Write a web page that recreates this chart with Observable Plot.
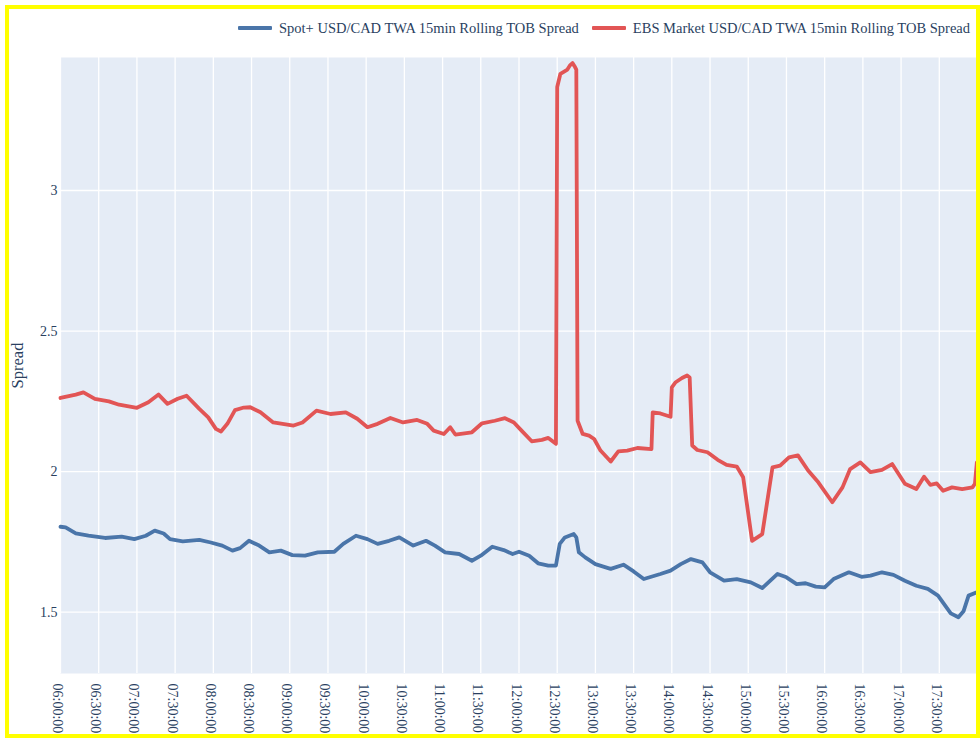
<!DOCTYPE html>
<html>
<head>
<meta charset="utf-8">
<script src="https://cdn.jsdelivr.net/npm/d3@7"></script>
<script src="https://cdn.jsdelivr.net/npm/@observablehq/plot@0.6"></script>
<style>
  html, body { margin: 0; padding: 0; background: #fff; }
  #wrap { position: relative; width: 980px; height: 738px; overflow: hidden; font-family: "Liberation Serif", "Times New Roman", serif; color: #2a3f5f; }
  #chart { position: absolute; left: 0; top: 0; }
  #legend { position: absolute; right: 10px; top: 18px; height: 20px; display: flex; align-items: center; font-size: 14.5px; line-height: 20px; white-space: nowrap; }
  .item { display: flex; align-items: center; margin-left: 13px; }
  .sw { width: 34px; height: 4px; margin-right: 7px; border-radius: 1px; }
  #border { position: absolute; left: 5px; top: 5px; width: 975px; height: 733px; box-sizing: border-box; border: 4px solid #ffff00; pointer-events: none; }
</style>
</head>
<body>
<div id="wrap">
  <div id="chart"></div>
  <div id="legend"></div>
  <div id="border"></div>
</div>
<script>
const seriesNames = ["Spot+ USD/CAD TWA 15min Rolling TOB Spread", "EBS Market USD/CAD TWA 15min Rolling TOB Spread"];
const seriesColors = ["#4a75a9", "#e25555"];

const spotTimes = ["06:00","06:04","06:12","06:22","06:35","06:48","06:58","07:07","07:14","07:21","07:26","07:36","07:49","07:58","08:07","08:15","08:21","08:28","08:36","08:44","08:53","09:02","09:12","09:22","09:35","09:42","09:52","10:01","10:09","10:18","10:26","10:37","10:47","10:54","11:02","11:13","11:23","11:30","11:39","11:48","11:55","12:00","12:08","12:15","12:23","12:29","12:32","12:36","12:43","12:45","12:47","12:52","13:00","13:10","13:12","13:22","13:30","13:38","13:51","13:59","14:07","14:15","14:24","14:30","14:41","14:51","15:02","15:11","15:23","15:30","15:38","15:45","15:53","16:00","16:07","16:19","16:29","16:36","16:45","16:54","17:03","17:12","17:21","17:29","17:39","17:45","17:49","17:53","17:59:30"];
const spotValues = [1.804,1.802,1.780,1.772,1.764,1.769,1.760,1.772,1.790,1.780,1.760,1.752,1.757,1.748,1.737,1.719,1.728,1.754,1.737,1.713,1.719,1.703,1.701,1.713,1.715,1.743,1.772,1.760,1.743,1.754,1.766,1.737,1.754,1.737,1.713,1.707,1.683,1.701,1.733,1.721,1.707,1.715,1.701,1.674,1.666,1.666,1.743,1.766,1.778,1.766,1.713,1.695,1.671,1.657,1.654,1.669,1.645,1.618,1.636,1.648,1.671,1.689,1.677,1.642,1.612,1.618,1.606,1.586,1.636,1.624,1.600,1.603,1.591,1.588,1.618,1.642,1.626,1.630,1.642,1.633,1.612,1.594,1.583,1.559,1.496,1.482,1.503,1.559,1.571];

const ebsTimes = ["06:00","06:12","06:18","06:27","06:38","06:46","07:00","07:09","07:17","07:24","07:32","07:39","07:49","07:56","08:02","08:06","08:11","08:17","08:24","08:29","08:37","08:47","09:03","09:10","09:21","09:32","09:44","09:53","10:01","10:09","10:19","10:29","10:40","10:48","10:53","11:01","11:06","11:10","11:23","11:31","11:41","11:49","11:56","12:02","12:10","12:18","12:23","12:29","12:30","12:32:30","12:38","12:40","12:42","12:44","12:45","12:46","12:50","12:55","12:59","13:04","13:12","13:18","13:25","13:33","13:44","13:45","13:51","13:59","14:00","14:03","14:08","14:12","14:14","14:16","14:20","14:28","14:36","14:43","14:51","14:56","15:03","15:11","15:19","15:25","15:32","15:39","15:47","15:55","16:06","16:14","16:20","16:28","16:36","16:45","16:53","17:03","17:12","17:18","17:23","17:28","17:33","17:40","17:48","17:56","17:58","17:59:30"];
const ebsValues = [2.262,2.274,2.282,2.259,2.250,2.238,2.227,2.247,2.274,2.241,2.259,2.270,2.223,2.193,2.152,2.143,2.170,2.219,2.228,2.229,2.211,2.175,2.164,2.175,2.217,2.205,2.211,2.188,2.158,2.170,2.191,2.175,2.184,2.170,2.146,2.134,2.158,2.132,2.140,2.172,2.181,2.190,2.175,2.146,2.108,2.113,2.120,2.099,3.368,3.415,3.430,3.445,3.453,3.439,3.430,2.181,2.134,2.128,2.116,2.075,2.036,2.072,2.075,2.084,2.080,2.211,2.207,2.195,2.300,2.318,2.333,2.342,2.335,2.093,2.077,2.069,2.042,2.024,2.018,1.980,1.754,1.778,2.015,2.021,2.051,2.058,2.004,1.962,1.891,1.944,2.009,2.033,1.998,2.006,2.027,1.957,1.938,1.982,1.953,1.958,1.932,1.944,1.938,1.944,1.957,2.033];

const xTickLabels = ["06:00:00","06:30:00","07:00:00","07:30:00","08:00:00","08:30:00","09:00:00","09:30:00","10:00:00","10:30:00","11:00:00","11:30:00","12:00:00","12:30:00","13:00:00","13:30:00","14:00:00","14:30:00","15:00:00","15:30:00","16:00:00","16:30:00","17:00:00","17:30:00"];
const xDomainLabels = ["06:00:00", "18:00:00"];
const yTicks = [1.5, 2, 2.5, 3];
const yDomain = [1.282, 3.473];
const yLabel = "Spread";

const parseT = d3.timeParse("%H:%M:%S");
const toDate = t => parseT(t.length === 5 ? t + ":00" : t);
const fmt = d3.timeFormat("%H:%M:%S");

const rows = [
  ...spotTimes.map((t, i) => ({series: seriesNames[0], time: toDate(t), value: spotValues[i]})),
  ...ebsTimes.map((t, i) => ({series: seriesNames[1], time: toDate(t), value: ebsValues[i]}))
];

const chart = Plot.plot({
  width: 980,
  height: 738,
  marginLeft: 60,
  marginRight: 3,
  marginTop: 57,
  marginBottom: 65,
  style: {fontFamily: '"Liberation Serif", "Times New Roman", serif', fontSize: "14px", color: "#2a3f5f", background: "transparent"},
  x: {type: "time", domain: xDomainLabels.map(parseT)},
  y: {domain: yDomain},
  color: {domain: seriesNames, range: seriesColors},
  marks: [
    Plot.frame({fill: "#e5ecf6", stroke: null}),
    Plot.gridX(xTickLabels.map(parseT), {stroke: "#ffffff", strokeOpacity: 1, strokeWidth: 1.3}),
    Plot.gridY(yTicks, {stroke: "#ffffff", strokeOpacity: 1, strokeWidth: 1.3}),
    Plot.axisX(xTickLabels.map(parseT), {tickFormat: fmt, tickRotate: 90, tickSize: 0, tickPadding: 10, label: null, dx: -3, fontSize: 14}),
    Plot.axisY(yTicks, {tickFormat: d => String(d), tickSize: 0, tickPadding: 3, label: null, fontSize: 14}),
    Plot.axisY([], {tickSize: 0, label: yLabel, labelAnchor: "center", labelArrow: "none", labelOffset: 49, fontSize: 16.5}),
    Plot.line(rows, {x: "time", y: "value", z: "series", stroke: "series", strokeWidth: 3.8, strokeLinejoin: "round", curve: "linear"})
  ]
});
document.getElementById("chart").appendChild(chart);

const legend = document.getElementById("legend");
seriesNames.forEach((name, i) => {
  const item = document.createElement("div");
  item.className = "item";
  const sw = document.createElement("div");
  sw.className = "sw";
  sw.style.background = seriesColors[i];
  const label = document.createElement("span");
  label.textContent = name;
  item.appendChild(sw);
  item.appendChild(label);
  legend.appendChild(item);
});
</script>
</body>
</html>
